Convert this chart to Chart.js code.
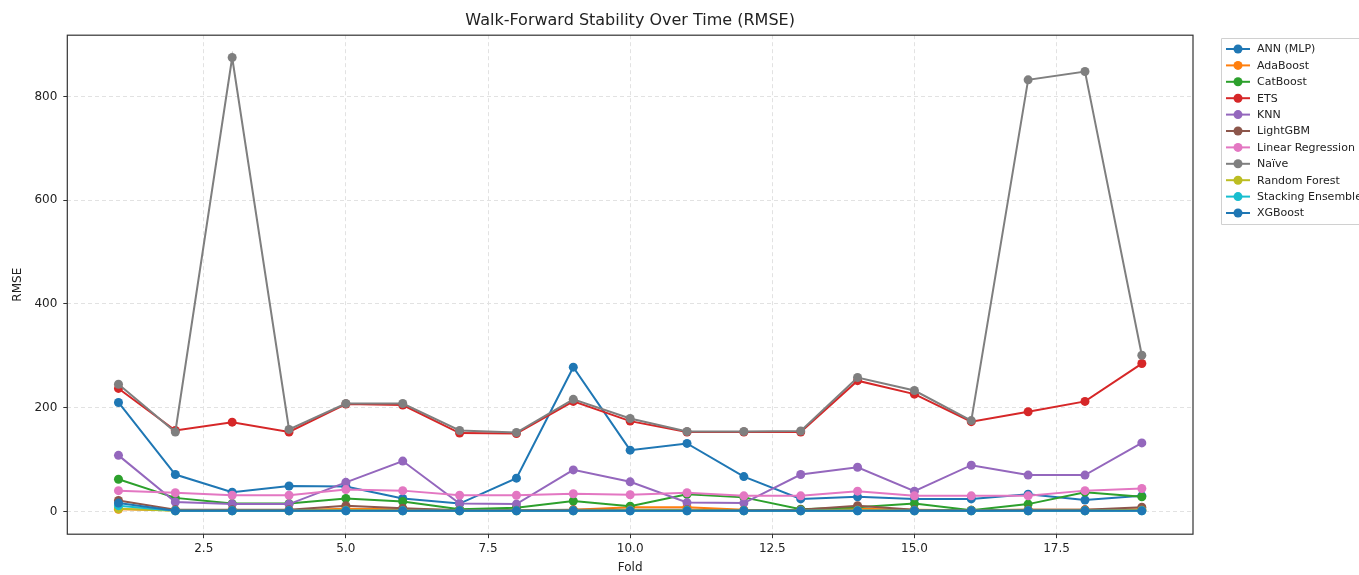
<!DOCTYPE html>
<html>
<head>
<meta charset="utf-8">
<script src="https://cdn.jsdelivr.net/npm/chart.js@4"></script>
<style>
  html, body { margin: 0; padding: 0; background: #fff; overflow: hidden; }
  #wrap { width: 1359px; height: 575px; }
</style>
</head>
<body>
<div id="wrap"><canvas id="myChart" width="1359" height="575"></canvas></div>
<script>
/* global Chart */

// folds 1..19
const folds = [1, 2, 3, 4, 5, 6, 7, 8, 9, 10, 11, 12, 13, 14, 15, 16, 17, 18, 19];

const annMlp     = [210, 71, 37, 49, 48, 25, 15, 64, 278, 118, 131, 67, 24, 28, 24, 24, 33, 22, 30];
const adaBoost   = [4, 2, 2, 2, 5, 4, 2, 2, 3, 8, 8, 3, 2, 5, 3, 2, 3, 3, 4];
const catBoost   = [62, 26, 15, 15, 25, 19, 4, 7, 20, 10, 33, 27, 4, 8, 15, 2, 14, 37, 28];
const ets        = [237, 156, 172, 153, 207, 205, 151, 150, 212, 174, 153, 153, 153, 252, 226, 173, 192, 212, 285];
const knn        = [108, 18, 14, 14, 56, 97, 15, 14, 80, 57, 17, 16, 71, 85, 39, 89, 70, 70, 132];
const lightGbm   = [21, 3, 3, 3, 11, 6, 2, 2, 3, 3, 3, 2, 3, 11, 3, 2, 3, 3, 8];
const linearReg  = [40, 36, 31, 31, 42, 40, 31, 31, 34, 32, 36, 30, 30, 39, 30, 30, 30, 40, 44];
const naive      = [245, 153, 875, 158, 208, 208, 156, 152, 216, 179, 154, 154, 155, 258, 233, 175, 832, 848, 301];
const randForest = [5, 1, 1, 1, 2, 1, 1, 1, 1, 2, 2, 1, 1, 2, 1, 1, 1, 1, 2];
const stacking   = [11, 1, 1, 1, 1, 1, 1, 1, 1, 1, 1, 1, 1, 1, 1, 1, 1, 1, 1];
const xgBoost    = [16, 1, 1, 1, 1, 1, 1, 1, 1, 1, 1, 1, 1, 1, 1, 1, 1, 1, 1];

const xTicks = [2.5, 5.0, 7.5, 10.0, 12.5, 15.0, 17.5];
const yTicks = [0, 200, 400, 600, 800];

const series = [
  ['ANN (MLP)', annMlp, '#1f77b4'],
  ['AdaBoost', adaBoost, '#ff7f0e'],
  ['CatBoost', catBoost, '#2ca02c'],
  ['ETS', ets, '#d62728'],
  ['KNN', knn, '#9467bd'],
  ['LightGBM', lightGbm, '#8c564b'],
  ['Linear Regression', linearReg, '#e377c2'],
  ['Naïve', naive, '#7f7f7f'],
  ['Random Forest', randForest, '#bcbd22'],
  ['Stacking Ensemble', stacking, '#17becf'],
  ['XGBoost', xgBoost, '#1f77b4']
];

const font = "'DejaVu Sans', sans-serif";

const datasets = series.map(function(s, i) {
  return {
    label: s[0],
    data: folds.map(function(f, k) { return { x: f, y: s[1][k] }; }),
    borderColor: s[2],
    backgroundColor: s[2],
    pointBackgroundColor: s[2],
    pointBorderColor: s[2],
    borderWidth: 2,
    pointRadius: 4.5,
    pointHoverRadius: 4.5,
    pointBorderWidth: 0,
    tension: 0,
    // later series on top, like matplotlib
    order: series.length - i
  };
});

// frame around the plot area (all four spines)
const framePlugin = {
  id: 'frame',
  afterDraw: function(chart) {
    const a = chart.chartArea;
    const c = chart.ctx;
    c.save();
    c.strokeStyle = '#333';
    c.lineWidth = 1.2;
    c.strokeRect(a.left, a.top, a.right - a.left, a.bottom - a.top);
    c.restore();
  }
};

// matplotlib style legend box on the right
const legendPlugin = {
  id: 'mplLegend',
  afterDraw: function(chart) {
    const c = chart.ctx;
    const x0 = 1221, y0 = 38, rowH = 16.4;
    c.save();
    c.strokeStyle = '#d0d0d0';
    c.lineWidth = 1;
    c.fillStyle = 'rgba(255,255,255,0.9)';
    c.beginPath();
    c.rect(x0 + 0.5, y0 + 0.5, 150, 186);
    c.fill();
    c.stroke();
    c.font = '11px ' + font;
    c.textBaseline = 'middle';
    chart.data.datasets.forEach(function(ds, i) {
      const y = y0 + 11 + i * rowH;
      c.strokeStyle = ds.borderColor;
      c.lineWidth = 2;
      c.beginPath();
      c.moveTo(x0 + 5, y);
      c.lineTo(x0 + 29, y);
      c.stroke();
      c.fillStyle = ds.borderColor;
      c.beginPath();
      c.arc(x0 + 17, y, 4.5, 0, Math.PI * 2);
      c.fill();
      c.fillStyle = '#222';
      c.fillText(ds.label, x0 + 36, y + 0.5);
    });
    c.restore();
  }
};

const gridOpts = {
  color: '#e2e2e2',
  tickColor: '#333',
  tickBorderDash: [],
  tickLength: 4
};

const ctx = document.getElementById('myChart').getContext('2d');

const chart = new Chart(ctx, {
  type: 'line',
  data: { datasets: datasets },
  options: {
    responsive: false,
    animation: false,
    events: [],
    layout: { padding: { left: 0, right: 166, top: 0, bottom: 0 } },
    plugins: {
      legend: { display: false },
      tooltip: { enabled: false },
      title: {
        display: true,
        text: 'Walk-Forward Stability Over Time (RMSE)',
        fullSize: false,
        color: '#222',
        font: { family: font, size: 16, weight: 'normal' },
        padding: { top: 11, bottom: 5 }
      }
    },
    scales: {
      x: {
        type: 'linear',
        min: 0.1,
        max: 19.9,
        afterBuildTicks: function(axis) {
          axis.ticks = xTicks.map(function(v) { return { value: v }; });
        },
        ticks: {
          color: '#222',
          font: { family: font, size: 12 },
          padding: 3,
          maxRotation: 0,
          callback: function(v) { return Number(v).toFixed(1); }
        },
        grid: gridOpts,
        border: { display: false, dash: [4, 3] },
        title: {
          display: true,
          text: 'Fold',
          color: '#222',
          font: { family: font, size: 12 },
          padding: { top: 2, bottom: 0 }
        }
      },
      y: {
        type: 'linear',
        min: -44,
        max: 918,
        afterBuildTicks: function(axis) {
          axis.ticks = yTicks.map(function(v) { return { value: v }; });
        },
        ticks: {
          color: '#222',
          font: { family: font, size: 12 },
          padding: 6
        },
        grid: gridOpts,
        border: { display: false, dash: [4, 3] },
        title: {
          display: true,
          text: 'RMSE',
          color: '#222',
          font: { family: font, size: 12 },
          padding: { top: 11, bottom: 3 }
        }
      }
    }
  },
  plugins: [framePlugin, legendPlugin]
});
console.log(chart.chartArea);
</script>
</body>
</html>
